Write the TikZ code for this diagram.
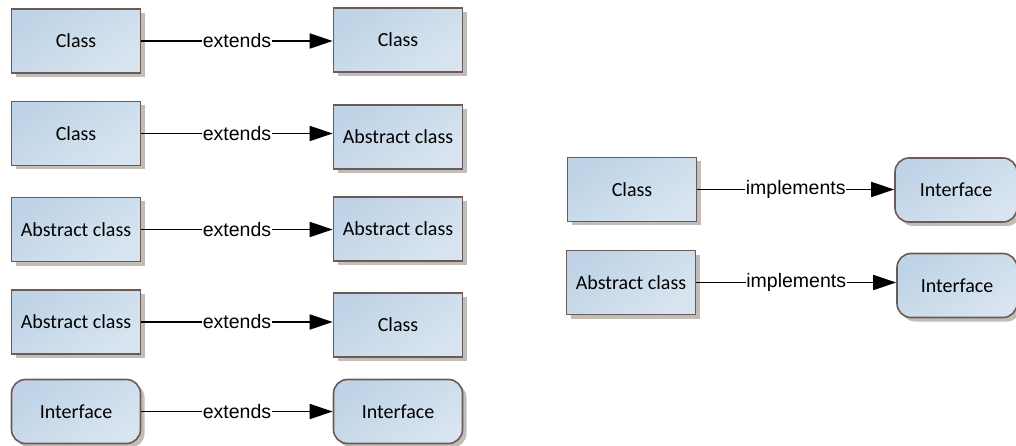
\documentclass[tikz,border=0pt]{standalone}
\usepackage{fontspec}
\newfontfamily\boxfont{Carlito}
\newfontfamily\labelfont{Liberation Sans}
\usetikzlibrary{arrows.meta,shadows}
\definecolor{boxedge}{HTML}{6B5A55}
\definecolor{boxlight}{HTML}{D8E5F0}
\definecolor{boxdark}{HTML}{BFD3E6}
\definecolor{shadowgray}{HTML}{BDB6AF}
\tikzset{
  umlbox/.style={draw=boxedge, line width=1.6pt,
    top color=boxdark, bottom color=boxlight, shading angle=35,
    minimum width=129pt, minimum height=64pt, inner sep=0pt,
    font=\boxfont\fontsize{20}{24}\selectfont,
    drop shadow={shadow xshift=4pt, shadow yshift=-4pt, fill=shadowgray, opacity=0.9}},
  classbox/.style={umlbox},
  ifacebox/.style={umlbox, rounded corners=14pt},
  relation/.style={line width=1.6pt, -{Triangle[length=23pt,width=15pt]}},
  rellabel/.style={fill=white, inner sep=0.6pt, font=\labelfont\fontsize{19.5}{22}\selectfont}
}
\begin{document}
\begin{tikzpicture}[x=1pt,y=-1pt]
\useasboundingbox (0,0) rectangle (1016,446);

% inheritance column
\node[classbox] (c1) at (76,41) {Class};
\node[classbox] (c1t) at (398,40) {Class};
\node[classbox] (c2) at (76,133.5) {Class};
\node[classbox] (a2t) at (398,137) {Abstract class};
\node[classbox] (a3) at (76,229.5) {Abstract class};
\node[classbox] (a3t) at (398,229) {Abstract class};
\node[classbox] (a4) at (76,322) {Abstract class};
\node[classbox] (c4t) at (398,325) {Class};
\node[ifacebox] (i5) at (76,411.5) {Interface};
\node[ifacebox] (i5t) at (398,411.5) {Interface};

% implementation column
\node[classbox] (c6) at (632,189.5) {Class};
\node[ifacebox, minimum width=122pt] (i6t) at (956,190) {Interface};
\node[classbox] (a7) at (631,282.5) {Abstract class};
\node[ifacebox, minimum width=120pt] (i7t) at (957,285.5) {Interface};

\draw[relation] (c1.east) -- (c1.east -| c1t.west) node[midway, rellabel] {extends};
\draw[relation] (c2.east) -- (c2.east -| a2t.west) node[midway, rellabel] {extends};
\draw[relation] (a3.east) -- (a3.east -| a3t.west) node[midway, rellabel] {extends};
\draw[relation] (a4.east) -- (a4.east -| c4t.west) node[midway, rellabel] {extends};
\draw[relation] (i5.east) -- (i5.east -| i5t.west) node[midway, rellabel] {extends};
\draw[relation] (c6.east) -- (c6.east -| i6t.west) node[midway, rellabel] {implements};
\draw[relation] (a7.east) -- (a7.east -| i7t.west) node[midway, rellabel] {implements};
\end{tikzpicture}
\end{document}
